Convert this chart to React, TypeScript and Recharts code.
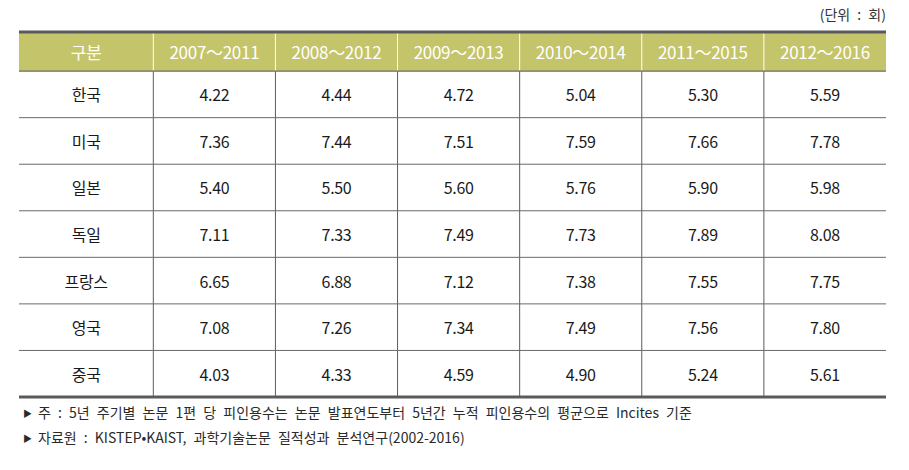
import React from "react";
import {
  ComposedChart,
  Scatter,
  XAxis,
  YAxis,
  ReferenceArea,
  ReferenceLine,
} from "recharts";

const headerLabel = "구분";
const periods = ["2007～2011", "2008～2012", "2009～2013", "2010～2014", "2011～2015", "2012～2016"];
const countries = ["한국", "미국", "일본", "독일", "프랑스", "영국", "중국"];
const korea = [4.22, 4.44, 4.72, 5.04, 5.3, 5.59];
const usa = [7.36, 7.44, 7.51, 7.59, 7.66, 7.78];
const japan = [5.4, 5.5, 5.6, 5.76, 5.9, 5.98];
const germany = [7.11, 7.33, 7.49, 7.73, 7.89, 8.08];
const france = [6.65, 6.88, 7.12, 7.38, 7.55, 7.75];
const uk = [7.08, 7.26, 7.34, 7.49, 7.56, 7.8];
const china = [4.03, 4.33, 4.59, 4.9, 5.24, 5.61];
const unitLabel = "(단위 : 회)";
const note1 = "주 : 5년 주기별 논문 1편 당 피인용수는 논문 발표연도부터 5년간 누적 피인용수의 평균으로 Incites 기준";
const note2 = "자료원 : KISTEP•KAIST, 과학기술논문 질적성과 분석연구(2002-2016)";

const rows = [korea, usa, japan, germany, france, uk, china];

const LABEL_W = 1.1; // label column width in column units
const HEADER_H = 0.84; // header height in row units

const headerCells = [
  { x: -LABEL_W / 2, y: -HEADER_H / 2, text: headerLabel },
  ...periods.map((p, i) => ({ x: i + 0.5, y: -HEADER_H / 2, text: p })),
];
const labelCells = countries.map((c, r) => ({ x: -LABEL_W / 2, y: r + 0.5, text: c }));
const valueCells = rows.flatMap((vals, r) =>
  vals.map((v, i) => ({ x: i + 0.5, y: r + 0.5, text: v.toFixed(2) }))
);

const FONT = "'Noto Sans CJK KR', 'Noto Sans', sans-serif";

const makeText = (color: string, size: number) => (props: any) => {
  const { cx, cy, payload } = props;
  return (
    <text
      x={cx}
      y={cy}
      textAnchor="middle"
      dominantBaseline="central"
      fill={color}
      fontSize={size}
      fontFamily={FONT}
      letterSpacing={-0.3}
    >
      {payload.text}
    </text>
  );
};

const colBounds = periods.map((_, i) => i); // 0..5
const rowBounds = countries.slice(1).map((_, i) => i + 1); // 1..6

export default function App() {
  return (
    <div style={{ position: "relative", width: 893, height: 454, fontFamily: FONT }}>
      <ComposedChart
        width={893}
        height={454}
        margin={{ top: 24, right: 15, bottom: 65, left: 11 }}
      >
        <XAxis
          hide
          type="number"
          dataKey="x"
          domain={[-LABEL_W, periods.length]}
          allowDataOverflow
        />
        <YAxis
          hide
          type="number"
          dataKey="y"
          domain={[-HEADER_H, countries.length]}
          reversed
          allowDataOverflow
        />
        <ReferenceArea
          x1={-LABEL_W}
          x2={periods.length}
          y1={-HEADER_H}
          y2={0}
          fill="#c4c46b"
          fillOpacity={1}
          stroke="none"
          ifOverflow="visible"
        />
        {colBounds.map((c) => (
          <ReferenceLine
            key={"hv" + c}
            segment={[{ x: c, y: -HEADER_H }, { x: c, y: 0 }]}
            stroke="#ffffff"
            strokeWidth={1}
            ifOverflow="visible"
          />
        ))}
        {colBounds.map((c) => (
          <ReferenceLine
            key={"bv" + c}
            segment={[{ x: c, y: 0 }, { x: c, y: countries.length }]}
            stroke="#5c5c5c"
            strokeWidth={1}
            ifOverflow="visible"
          />
        ))}
        {rowBounds.map((r) => (
          <ReferenceLine
            key={"h" + r}
            y={r}
            stroke="#6a6a6a"
            strokeWidth={1}
            ifOverflow="visible"
          />
        ))}
        <ReferenceLine y={0} stroke="#6a6a6a" strokeWidth={1.2} ifOverflow="visible" />
        <ReferenceLine y={-HEADER_H} stroke="#5a5a5a" strokeWidth={3} ifOverflow="visible" />
        <ReferenceLine y={countries.length} stroke="#5a5a5a" strokeWidth={3} ifOverflow="visible" />
        <Scatter data={headerCells} shape={makeText("#ffffff", 17)} isAnimationActive={false} />
        <Scatter data={labelCells} shape={makeText("#1a1a1a", 16)} isAnimationActive={false} />
        <Scatter data={valueCells} shape={makeText("#1a1a1a", 16)} isAnimationActive={false} />
      </ComposedChart>
      <div
        style={{
          position: "absolute",
          right: 15,
          top: -4,
          fontSize: 14,
          color: "#333",
          whiteSpace: "nowrap",
          wordSpacing: 4,
        }}
      >
        {unitLabel}
      </div>
      {[note1, note2].map((n, i) => (
        <div
          key={i}
          style={{
            position: "absolute",
            left: 15,
            top: 395 + i * 25,
            fontSize: 14,
            color: "#2a2a2a",
            whiteSpace: "nowrap",
            wordSpacing: 4,
            lineHeight: "18px",
          }}
        >
          <span style={{ fontSize: 9, marginRight: 6, position: "relative", top: -1 }}>▶</span>
          {n}
        </div>
      ))}
    </div>
  );
}
